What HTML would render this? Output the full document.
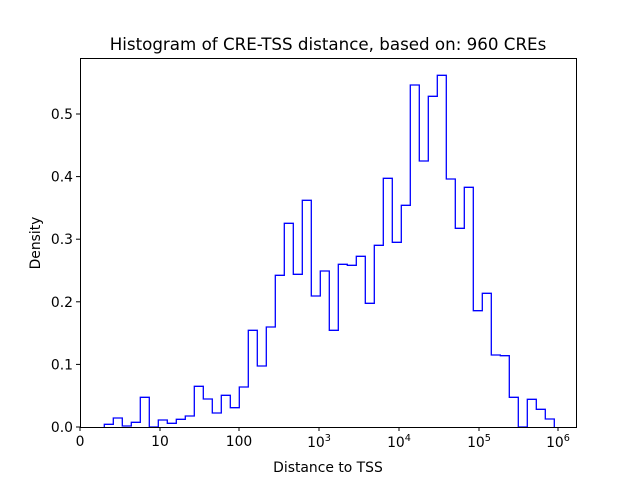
<!DOCTYPE html>
<html><head><meta charset="utf-8"><style>body{margin:0;background:#fff}svg{display:block}</style></head><body>
<svg width="640" height="480" xmlns="http://www.w3.org/2000/svg" font-family="DejaVu Sans, Liberation Sans, sans-serif">
<rect width="640" height="480" fill="#fff"/>
<polyline id="h" fill="none" stroke="#0000ff" stroke-width="1.3" points=""/>
<rect x="80.5" y="58.5" width="496" height="369" fill="none" stroke="#000" stroke-width="1"/>
<g stroke="#000" stroke-width="1">
<line x1="80" y1="427" x2="80" y2="431"/><line x1="160" y1="427" x2="160" y2="431"/><line x1="239" y1="427" x2="239" y2="431"/><line x1="319" y1="427" x2="319" y2="431"/><line x1="399" y1="427" x2="399" y2="431"/><line x1="479" y1="427" x2="479" y2="431"/><line x1="558" y1="427" x2="558" y2="431"/>
<line x1="76" y1="427" x2="80" y2="427"/><line x1="76" y1="364.4" x2="80" y2="364.4"/><line x1="76" y1="301.8" x2="80" y2="301.8"/><line x1="76" y1="239.2" x2="80" y2="239.2"/><line x1="76" y1="176.6" x2="80" y2="176.6"/><line x1="76" y1="114" x2="80" y2="114"/>
</g>
<g font-size="13.9" text-anchor="middle" fill="#000">
<text x="80" y="446">0</text><text x="160" y="446">10</text><text x="239" y="446">100</text>
<text x="319" y="447">10<tspan font-size="9.7" dy="-6">3</tspan></text>
<text x="399" y="447">10<tspan font-size="9.7" dy="-6">4</tspan></text>
<text x="479" y="447">10<tspan font-size="9.7" dy="-6">5</tspan></text>
<text x="558" y="447">10<tspan font-size="9.7" dy="-6">6</tspan></text>
</g>
<g font-size="13.9" text-anchor="end" fill="#000">
<text x="73" y="432">0.0</text><text x="73" y="369.4">0.1</text><text x="73" y="306.8">0.2</text><text x="73" y="244.2">0.3</text><text x="73" y="181.6">0.4</text><text x="73" y="119">0.5</text>
</g>
<text x="328" y="472" font-size="13.9" text-anchor="middle">Distance to TSS</text>
<text x="40" y="243" font-size="13.9" text-anchor="middle" transform="rotate(-90 40 243)">Density</text>
<text x="328" y="50" font-size="16.7" text-anchor="middle">Histogram of CRE-TSS distance, based on: 960 CREs</text>
</svg>
<script>
var t=[424.3,418,426,422.3,397.3,427,420,423.3,419.3,416,386.3,399,413,395.3,407.7,387,330.3,366,327,275.3,223.3,274.3,200.3,296,271,330.3,264.3,265.3,256.3,303.3,245.3,178.3,242.3,205.3,85,161,96.3,75.3,179,228.3,187.3,310.7,293.3,355,355.7,397.3,427,399.3,409.3,419];
var p=[],x0=104.3,w=9;p.push(x0+","+427);
for(var i=0;i<t.length;i++){var a=x0+w*i,b=a+w;p.push(a+","+t[i]);p.push(b+","+t[i]);}
p.push((x0+w*t.length)+",427");
document.getElementById("h").setAttribute("points",p.join(" "));
</script>
</body></html>
